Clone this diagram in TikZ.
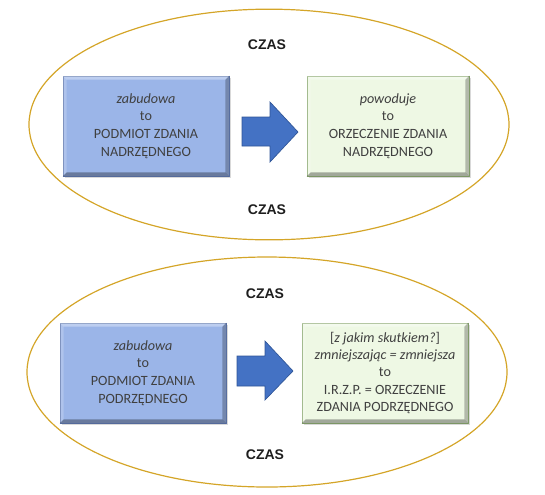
\documentclass[tikz,border=0pt]{standalone}
\usepackage{fontspec}
\setmainfont{Carlito}
\newfontfamily\czasfont{Liberation Sans}
\usetikzlibrary{shapes.geometric,calc}
\definecolor{goldline}{RGB}{212,165,40}
\definecolor{bluefill}{RGB}{155,181,232}
\definecolor{blueedge}{RGB}{95,120,175}
\definecolor{greenfill}{RGB}{238,248,228}
\definecolor{greenedge}{RGB}{140,170,115}
\definecolor{arrowfill}{RGB}{68,114,196}
\definecolor{arrowedge}{RGB}{47,85,151}
\definecolor{boxtext}{RGB}{64,64,64}
\definecolor{czastext}{RGB}{30,30,30}
\tikzset{
  oval/.style={ellipse, draw=goldline, line width=0.9pt, minimum width=360pt, minimum height=173pt, inner sep=0pt},
  czas/.style={font=\czasfont\bfseries\fontsize{10.5}{12}\selectfont, text=czastext},
  bluebox/.style={rectangle, fill=bluefill, draw=blueedge, line width=0.6pt, minimum width=124.5pt, minimum height=75pt, align=center, text=boxtext, font=\fontsize{10.6}{13.3}\selectfont},
  greenbox/.style={rectangle, fill=greenfill, draw=greenedge, line width=0.6pt, minimum width=122pt, minimum height=75pt, align=center, text=boxtext, font=\fontsize{10.6}{13.3}\selectfont},
  blockarrow/.style={fill=arrowfill, draw=arrowedge, line width=0.5pt, line join=miter}
}
\newcommand{\bevel}[1]{%
  \fill[white,opacity=0.35] (#1.north west) -- (#1.north east) -- ([shift={(-4,4)}]#1.north east) -- ([shift={(4,4)}]#1.north west) -- cycle;
  \fill[white,opacity=0.2] (#1.north west) -- ([shift={(4,4)}]#1.north west) -- ([shift={(4,-4)}]#1.south west) -- (#1.south west) -- cycle;
  \fill[black,opacity=0.32] (#1.south west) -- (#1.south east) -- ([shift={(-4,-4)}]#1.south east) -- ([shift={(4,-4)}]#1.south west) -- cycle;
  \fill[black,opacity=0.25] (#1.north east) -- (#1.south east) -- ([shift={(-4,-4)}]#1.south east) -- ([shift={(-4,4)}]#1.north east) -- cycle;
}
\begin{document}
\begin{tikzpicture}[x=0.75pt,y=-0.75pt]
\useasboundingbox (0,0) rectangle (545,494);
% top group
\node[oval] (e1) at (269,124.5) {};
\node[czas] (c1) at (267,45) {CZAS};
\node[czas] (c2) at (267,210) {CZAS};
\fill[black,opacity=0.15] (64.5,77.5) rectangle (231,178);
\node[bluebox] (a1) at (146,126) {\textit{zabudowa}\\to\\PODMIOT ZDANIA\\NADRZĘDNEGO};
\bevel{a1}
\fill[black,opacity=0.15] (308.5,77.5) rectangle (471,178);
\node[greenbox, minimum width=121.5pt] (b1) at (388,126) {\textit{powoduje}\\to\\ORZECZENIE ZDANIA\\NADRZĘDNEGO};
\bevel{b1}
\draw[blockarrow] (242,117) -- (270,117) -- (270,102) -- (298,132) -- (270,162) -- (270,146) -- (242,146) -- cycle;
% bottom group
\node[oval, minimum height=172.5pt] (e2) at (267,372) {};
\node[czas] (c3) at (265,294) {CZAS};
\node[czas] (c4) at (265,455) {CZAS};
\fill[black,opacity=0.15] (61.5,324.5) rectangle (228,425);
\node[bluebox] (a2) at (143,373) {\textit{zabudowa}\\to\\PODMIOT ZDANIA\\PODRZĘDNEGO};
\bevel{a2}
\fill[black,opacity=0.15] (303.5,324.5) rectangle (470,425);
\node[greenbox, minimum width=124.5pt, font=\fontsize{10.6}{13}\selectfont] (b2) at (385,373) {[\textit{z jakim skutkiem?}]\\\textit{zmniejszając = zmniejsza}\\to\\I.R.Z.P. = ORZECZENIE\\ZDANIA PODRZĘDNEGO};
\bevel{b2}
\draw[blockarrow] (237,356) -- (265,356) -- (265,341) -- (293,371) -- (265,400) -- (265,386) -- (237,386) -- cycle;
\end{tikzpicture}
\end{document}
